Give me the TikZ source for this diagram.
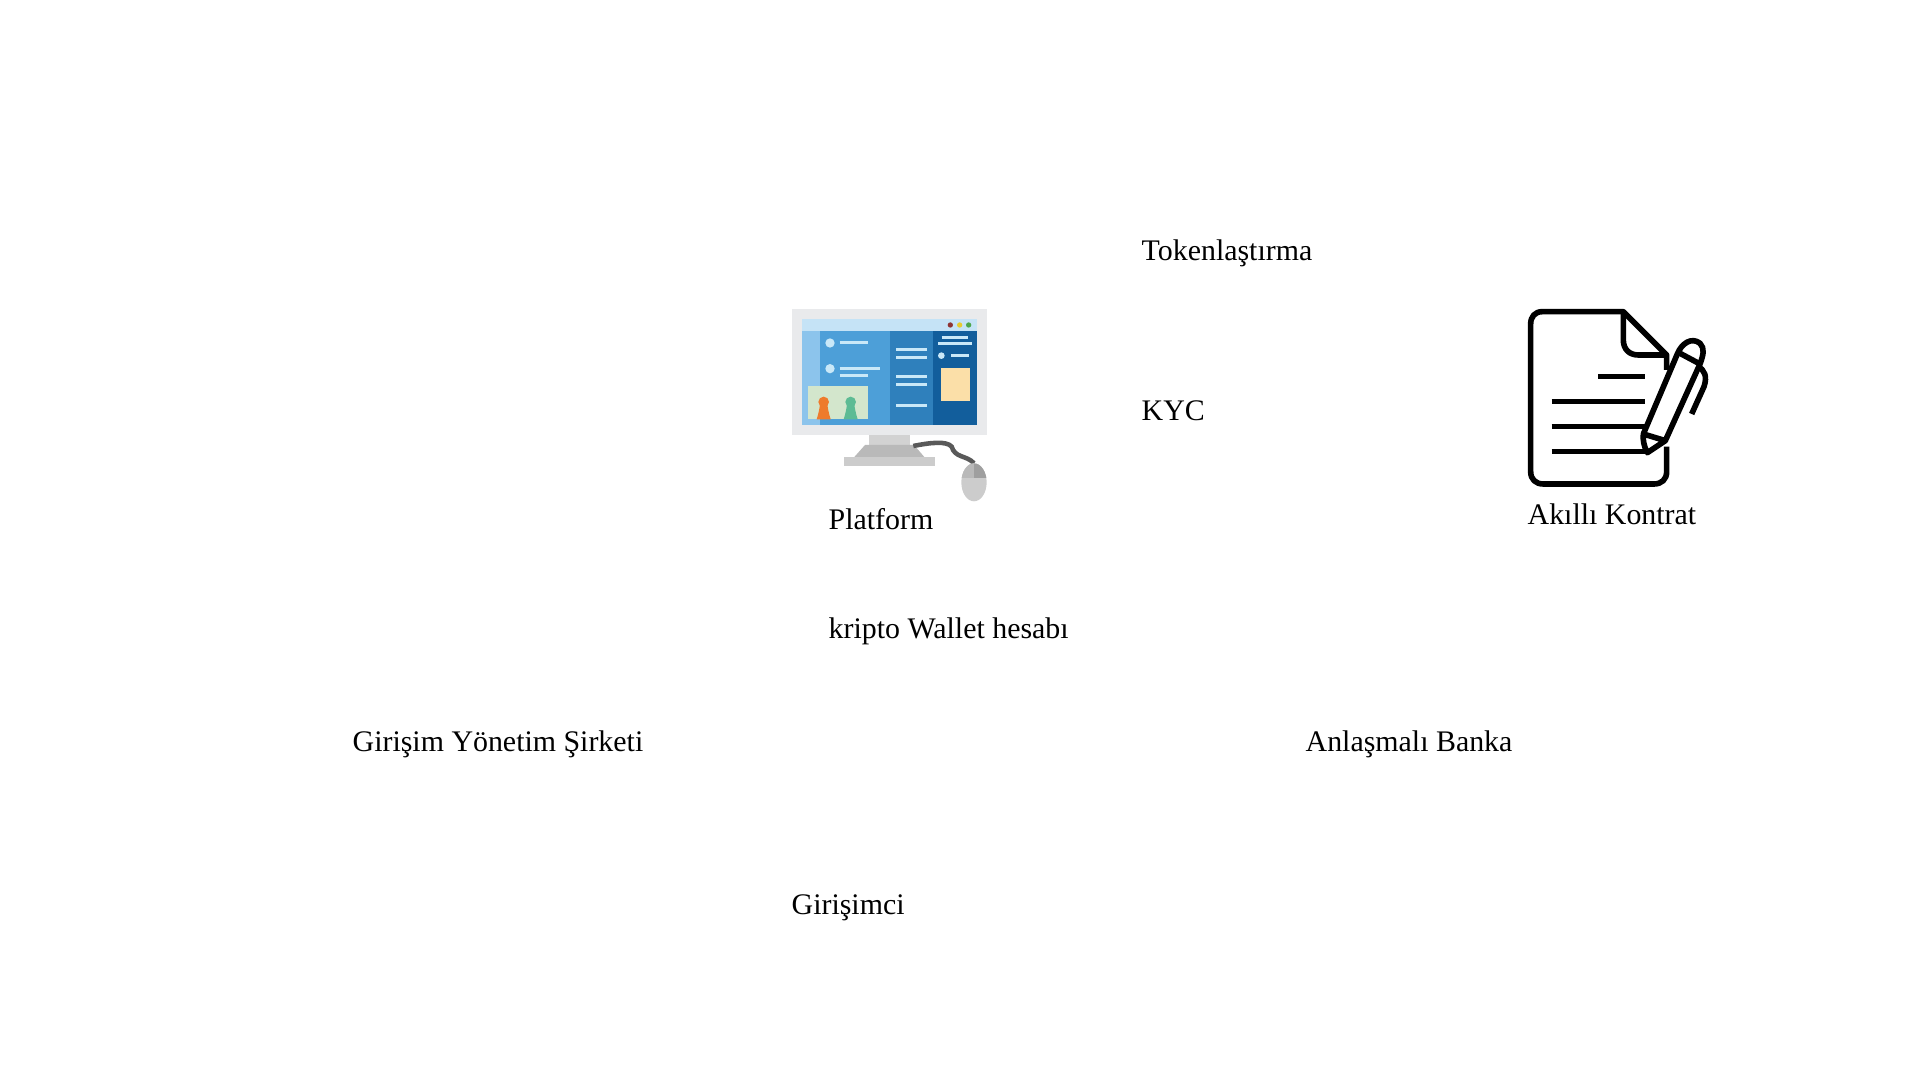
\documentclass[tikz,border=0pt]{standalone}
\usepackage{fontspec}
\setmainfont{Liberation Serif}
\usetikzlibrary{positioning}
\definecolor{screenframe}{HTML}{E9EAEC}
\definecolor{screenbar}{HTML}{C5E3F6}
\definecolor{stripblue}{HTML}{8CC4EC}
\definecolor{panelone}{HTML}{4D9FD8}
\definecolor{paneltwo}{HTML}{2F80BC}
\definecolor{panelthree}{HTML}{125E9C}
\definecolor{linelight}{HTML}{C9E8F8}
\definecolor{photobg}{HTML}{D3E6CC}
\definecolor{notecream}{HTML}{FBDFA8}
\definecolor{figorange}{HTML}{EE7B2C}
\definecolor{figgreen}{HTML}{5DBB94}
\tikzstyle{caption} = [anchor=base west, inner sep=0pt, font=\fontsize{8.5}{10}\selectfont, text=black]
\tikzstyle{screenline} = [draw=linelight, line width=0.85pt]
\tikzstyle{docline} = [draw=black, line width=1.6pt, line join=round]

\begin{document}
\begin{tikzpicture}[x=0.01cm, y=-0.01cm]
  \useasboundingbox (0,0) rectangle (1920,1080);

  % Captions
  \node (tokenization) [caption] at (1141,261) {Tokenlaştırma};
  \node (kyc)          [caption] at (1141,421) {KYC};
  \node (platform)     [caption] at (828,530)  {Platform};
  \node (contract)     [caption] at (1527,525) {Akıllı Kontrat};
  \node (wallet)       [caption] at (828,639)  {kripto Wallet hesabı};
  \node (company)      [caption] at (352,752)  {Girişim Yönetim Şirketi};
  \node (bank)         [caption] at (1305,752) {Anlaşmalı Banka};
  \node (founder)      [caption] at (791,915)  {Girişimci};

  % Monitor
  \begin{scope}[shift={(770,290)}, scale=1/3]
    \fill[screenframe] (66,58) rectangle (652,434);
    \fill[screenbar] (97,88) rectangle (621,123);
    \fill[stripblue] (97,123) rectangle (150,405);
    \fill[panelone] (150,123) rectangle (360,405);
    \fill[paneltwo] (360,123) rectangle (488,405);
    \fill[panelthree] (488,123) rectangle (621,405);
    \fill[red!45!black!80] (541,105) circle (8);
    \fill[yellow!60!brown] (569,105) circle (8);
    \fill[green!50!black!70] (596,105) circle (8);
    % left panel
    \fill[linelight] (180,159) circle (14);
    \fill[linelight] (180,236) circle (14);
    \draw[screenline] (209,159) -- (294,159);
    \draw[screenline] (209,236) -- (331,236);
    \draw[screenline] (209,257) -- (294,257);
    \fill[photobg] (115,288) rectangle (294,388);
    \foreach \xpos/\figcol in {161/figorange, 242/figgreen} {
      \fill[\figcol] (\xpos,336) circle (16);
      \fill[\figcol] (\xpos-21,388) .. controls (\xpos-15,370) and (\xpos-13,355) .. (\xpos-10,340) -- (\xpos+10,340) .. controls (\xpos+13,355) and (\xpos+15,370) .. (\xpos+21,388) -- cycle;
    }
    % middle panel
    \foreach \ypos in {178,202,259,283,347}
      \draw[screenline] (379,\ypos) -- (470,\ypos);
    % right panel
    \draw[screenline] (515,143) -- (594,143);
    \draw[screenline] (504,162) -- (605,162);
    \fill[linelight] (514,197) circle (10);
    \draw[screenline] (543,197) -- (596,197);
    \fill[notecream] (513,235) rectangle (600,333);
    % Stand
    \fill[gray!35] (298,434) rectangle (421,465);
    \fill[gray!55] (285,465) -- (432,465) -- (463,501) -- (253,501) -- cycle;
    \fill[gray!40] (223,501) rectangle (495,529);
    % Mouse
    \draw[gray!70!black, line width=1.3pt] (430,468) .. controls (480,458) and (530,452) .. (545,470) .. controls (555,505) and (590,495) .. (612,520);
    \fill[gray!40] (612,577) ellipse (38 and 57);
    \begin{scope}
      \clip (574,520) rectangle (612,562);
      \fill[gray!55] (612,577) ellipse (38 and 57);
    \end{scope}
    \begin{scope}
      \clip (612,520) rectangle (650,562);
      \fill[gray!75] (612,577) ellipse (38 and 57);
    \end{scope}
  \end{scope}

  % Document and pen
  \begin{scope}[shift={(1500,290)}, scale=1/3]
    \draw[docline] (500,240) -- (500,195) -- (370,65) -- (127,65) .. controls (105,65) and (92,80) .. (92,102) -- (92,545) .. controls (92,568) and (107,582) .. (130,582) -- (462,582) .. controls (485,582) and (500,568) .. (500,545) -- (500,470);
    \draw[docline] (370,65) -- (370,150) .. controls (370,178) and (388,195) .. (415,195) -- (500,195);
    \draw[docline] (295,259) -- (435,259);
    \draw[docline] (155,334) -- (435,334);
    \draw[docline] (155,409) -- (435,409);
    \draw[docline] (155,485) -- (440,485);
    \draw[docline] (430,432) -- (532,192) .. controls (545,160) and (575,140) .. (600,160) .. controls (615,175) and (610,195) .. (600,222) -- (496,452) -- (442,488) .. controls (432,470) and (428,450) .. (430,432) -- (496,452);
    \draw[docline] (540,190) -- (600,222);
    \draw[docline] (592,228) .. controls (615,240) and (622,260) .. (612,290) -- (575,372);
  \end{scope}

\end{tikzpicture}
\end{document}
